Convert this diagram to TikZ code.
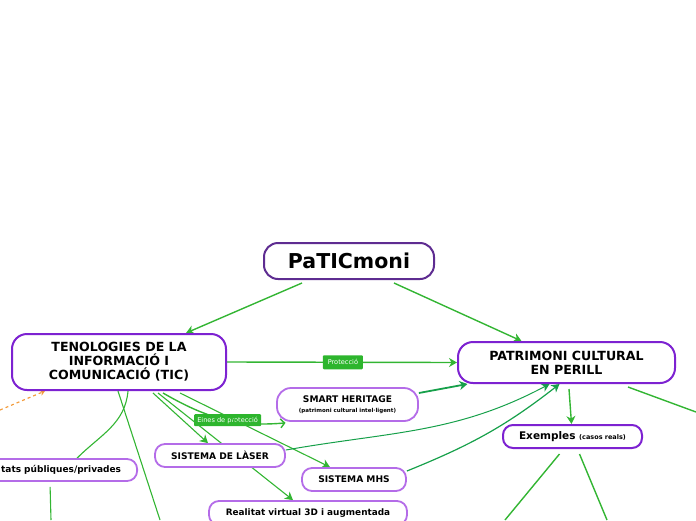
\documentclass[tikz,border=0pt]{standalone}
\usepackage{fontspec}
\setmainfont{DejaVu Sans}
\usetikzlibrary{arrows.meta,backgrounds,calc}
\definecolor{edgegreen}{HTML}{33B533}
\definecolor{darkgreen}{HTML}{16A04A}
\definecolor{labelgreen}{HTML}{2DB52D}
\definecolor{orangedash}{HTML}{F39C3C}
\definecolor{rootpurple}{HTML}{5E2C91}
\definecolor{mainpurple}{HTML}{7D22D1}
\definecolor{lightpurple}{HTML}{B46CE8}
\tikzset{
  rootbox/.style={draw=rootpurple, line width=2pt, fill=white, rounded corners=14pt, align=center, inner sep=0pt, font=\bfseries\fontsize{20.5}{22}\selectfont},
  mainbox/.style={draw=mainpurple, line width=2pt, fill=white, rounded corners=15pt, align=center, inner sep=0pt, font=\bfseries\fontsize{12.6}{14}\selectfont},
  subbox/.style={draw=lightpurple, line width=1.8pt, fill=white, rounded corners=10pt, align=center, inner sep=0pt, font=\bfseries\fontsize{9.1}{10}\selectfont},
  conn/.style={draw=edgegreen, line width=1.4pt},
  conndark/.style={draw=darkgreen, line width=1.3pt},
  arr/.style={-{Stealth[length=8pt,width=9pt,inset=2.5pt]}},
  lbl/.style={fill=labelgreen, text=white, rounded corners=1pt, inner sep=0pt, font=\fontsize{6.6}{7}\selectfont},
}
\begin{document}
\begin{tikzpicture}[x=1pt,y=-1pt]
\useasboundingbox (0,0) rectangle (696,520);
\clip (0,0) rectangle (696,520);

% nodes
\node[rootbox, minimum width=170pt, minimum height=36pt] (root) at (349,261) {PaTICmoni};
\node[mainbox, minimum width=214pt, minimum height=56pt] (tic) at (119,362) {TENOLOGIES DE LA\\INFORMACIÓ I\\COMUNICACIÓ (TIC)};
\node[mainbox, minimum width=217pt, minimum height=41pt] (patr) at (566.5,362.5) {PATRIMONI CULTURAL\\EN PERILL};
\node[mainbox, rounded corners=10pt, minimum width=139pt, minimum height=23pt, font=\bfseries\fontsize{10.5}{12}\selectfont] (ex) at (572.5,436.5) {Exemples {\fontsize{6.5}{8}\selectfont (casos reals)}};
\node[subbox, rounded corners=14pt, minimum width=141pt, minimum height=33pt] (smart) at (347.5,404.5) {SMART HERITAGE\\[0pt]{\fontsize{5.5}{7}\selectfont (patrimoni cultural intel·ligent)}};
\node[subbox, minimum width=130pt, minimum height=23pt] (laser) at (220,455.5) {SISTEMA DE LÀSER};
\node[subbox, minimum width=104pt, minimum height=23pt] (mhs) at (354,479.5) {SISTEMA MHS};
\node[subbox, minimum width=198pt, minimum height=24pt, font=\bfseries\fontsize{8.9}{10}\selectfont] (real) at (308,513) {Realitat virtual 3D i augmentada};
\node[subbox, anchor=east, text width=150pt, align=right, inner xsep=16pt, minimum height=22pt, font=\bfseries\fontsize{9}{10}\selectfont] (ent) at (138,470) {tats públiques/privades};

% free ends
\coordinate (offR) at (696,412);
\coordinate (offA) at (505,520);
\coordinate (offB) at (607,520);
\coordinate (offC) at (160,520);
\coordinate (offD) at (51,520);
\coordinate (offE) at (0,410);

\begin{scope}[on background layer]
\draw[conn, arr] ([xshift=-47pt,yshift=-3pt]root.south) -- ([xshift=67pt]tic.north);
\draw[conn, arr] ([xshift=45pt,yshift=-3pt]root.south) -- ([xshift=-45pt]patr.north);
\draw[conn, arr] (tic.east) -- node[lbl, pos=0.504, minimum width=40pt, minimum height=14pt] {Protecció} (patr.west);
\draw[conn, -{Straight Barb[length=4pt,width=9pt]}] ([xshift=44pt,yshift=-2pt]tic.south) to[out=-30,in=185] node[lbl, pos=0.55, minimum width=67pt, minimum height=12pt] {Eines de protecció} ([xshift=-62pt,yshift=-1pt]smart.south);
\draw[conn, line width=1.1pt, arr] ([xshift=34pt,yshift=-2pt]tic.south) -- ([xshift=-12pt]laser.north);
\draw[conn, line width=1.1pt, arr] ([xshift=39pt,yshift=-2pt]tic.south) -- ([xshift=-15pt]real.north);
\draw[conn, line width=1.1pt, arr] ([xshift=61pt,yshift=-2pt]tic.south) -- ([xshift=-24pt]mhs.north);
\draw[conndark, line width=1.8pt, arr] ([yshift=11.5pt]smart.east) -- ([xshift=-99pt]patr.south);
\draw[conndark, line width=1pt, arr] ([yshift=5.5pt]laser.east) to[out=10,in=208] ([xshift=-17pt]patr.south);
\draw[conndark, line width=1.2pt, arr] ([yshift=8.5pt]mhs.east) to[out=22,in=218] ([xshift=-7pt]patr.south);
\draw[conn, arr] ([xshift=2.5pt,yshift=-5pt]patr.south) -- ([xshift=-1pt]ex.north);
\draw[conn] ([xshift=61.5pt,yshift=-3pt]patr.south) -- (offR);
\draw[conn] ([xshift=-13pt,yshift=-5pt]ex.south) -- (offA);
\draw[conn] ([xshift=7pt,yshift=-5pt]ex.south) -- (offB);
\draw[conn, line width=1.1pt] ([xshift=-1pt]tic.south) -- (offC);
\draw[conn, line width=1.1pt] ([xshift=9pt]tic.south) to[out=-95,in=45] ([xshift=31pt]ent.north);
\draw[conn, line width=1.1pt] ([xshift=4pt,yshift=-5pt]ent.south) -- (offD);
\draw[draw=orangedash, line width=1.2pt, dashed, -{Stealth[length=5pt,width=6pt]}] (offE) -- ([xshift=-74pt]tic.south);
\end{scope}
\end{tikzpicture}
\end{document}
